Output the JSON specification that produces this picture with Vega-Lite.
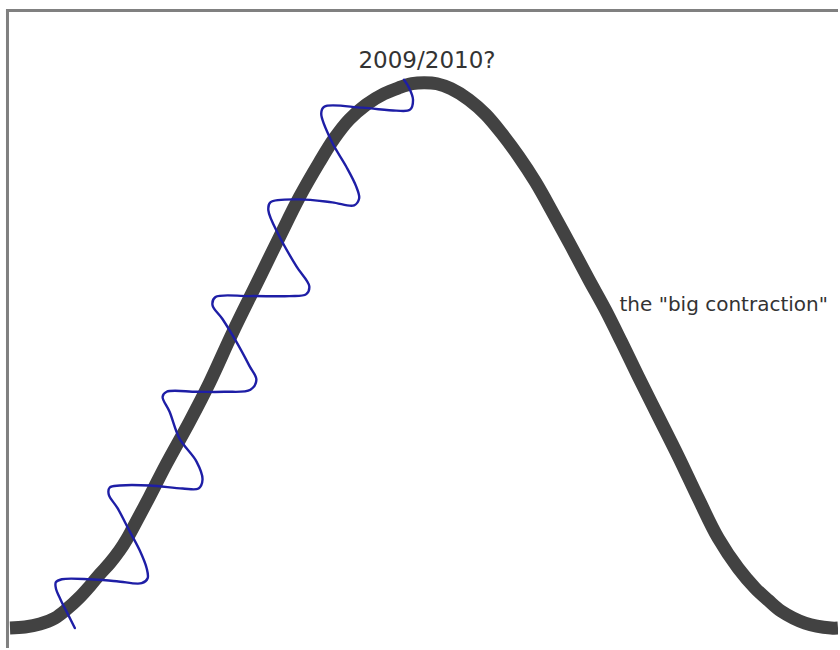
{
  "$schema": "https://vega.github.io/schema/vega-lite/v6.json",
  "width": 840,
  "height": 650,
  "autosize": {"type": "fit", "contains": "padding"},
  "padding": 0,
  "background": "white",
  "config": {"view": {"stroke": null}},
  "data": {"values": [{}]},
  "datasets": {
    "curve": [
      {"x": 10, "py": 630}, {"x": 25, "py": 629}, {"x": 40, "py": 626}, {"x": 55, "py": 620},
      {"x": 67, "py": 611}, {"x": 80, "py": 599}, {"x": 90, "py": 588}, {"x": 100, "py": 576},
      {"x": 110, "py": 565}, {"x": 120, "py": 552}, {"x": 127, "py": 541}, {"x": 133, "py": 530},
      {"x": 150, "py": 498}, {"x": 167, "py": 465}, {"x": 190, "py": 423}, {"x": 210, "py": 384},
      {"x": 233, "py": 334}, {"x": 257, "py": 285}, {"x": 280, "py": 238}, {"x": 300, "py": 198},
      {"x": 320, "py": 163}, {"x": 335, "py": 139}, {"x": 350, "py": 120}, {"x": 367, "py": 105},
      {"x": 385, "py": 94}, {"x": 400, "py": 88}, {"x": 413, "py": 84}, {"x": 425, "py": 83},
      {"x": 438, "py": 84}, {"x": 452, "py": 89}, {"x": 470, "py": 100}, {"x": 487, "py": 115},
      {"x": 503, "py": 134}, {"x": 520, "py": 157}, {"x": 537, "py": 183}, {"x": 555, "py": 215},
      {"x": 573, "py": 248}, {"x": 590, "py": 280}, {"x": 607, "py": 311}, {"x": 623, "py": 343},
      {"x": 640, "py": 378}, {"x": 660, "py": 418}, {"x": 680, "py": 458}, {"x": 700, "py": 500},
      {"x": 720, "py": 540}, {"x": 740, "py": 570}, {"x": 757, "py": 590}, {"x": 770, "py": 602},
      {"x": 783, "py": 613}, {"x": 807, "py": 625}, {"x": 833, "py": 630}, {"x": 840, "py": 630}
    ],
    "wave": [
      {"i": 1, "x": 75, "py": 630}, {"i": 2, "x": 68, "py": 616}, {"i": 3, "x": 61, "py": 602},
      {"i": 4, "x": 56, "py": 590}, {"i": 5, "x": 56, "py": 584}, {"i": 6, "x": 62, "py": 581},
      {"i": 7, "x": 90, "py": 581}, {"i": 8, "x": 117, "py": 583}, {"i": 9, "x": 142, "py": 585},
      {"i": 10, "x": 148, "py": 580}, {"i": 11, "x": 147, "py": 570}, {"i": 12, "x": 140, "py": 552},
      {"i": 13, "x": 130, "py": 533}, {"i": 14, "x": 118, "py": 510}, {"i": 15, "x": 109, "py": 496},
      {"i": 16, "x": 110, "py": 489}, {"i": 17, "x": 120, "py": 487}, {"i": 18, "x": 150, "py": 487},
      {"i": 19, "x": 183, "py": 490}, {"i": 20, "x": 199, "py": 490}, {"i": 21, "x": 203, "py": 481},
      {"i": 22, "x": 197, "py": 463}, {"i": 23, "x": 180, "py": 440}, {"i": 24, "x": 170, "py": 413},
      {"i": 25, "x": 163, "py": 398}, {"i": 26, "x": 167, "py": 393}, {"i": 27, "x": 197, "py": 393},
      {"i": 28, "x": 225, "py": 393}, {"i": 29, "x": 251, "py": 391}, {"i": 30, "x": 257, "py": 381},
      {"i": 31, "x": 250, "py": 367}, {"i": 32, "x": 237, "py": 343}, {"i": 33, "x": 223, "py": 320},
      {"i": 34, "x": 213, "py": 306}, {"i": 35, "x": 216, "py": 298}, {"i": 36, "x": 250, "py": 297},
      {"i": 37, "x": 290, "py": 297}, {"i": 38, "x": 307, "py": 295}, {"i": 39, "x": 310, "py": 287},
      {"i": 40, "x": 297, "py": 267}, {"i": 41, "x": 280, "py": 237}, {"i": 42, "x": 269, "py": 211},
      {"i": 43, "x": 271, "py": 203}, {"i": 44, "x": 300, "py": 200}, {"i": 45, "x": 333, "py": 203},
      {"i": 46, "x": 355, "py": 206}, {"i": 47, "x": 360, "py": 199}, {"i": 48, "x": 357, "py": 187},
      {"i": 49, "x": 347, "py": 167}, {"i": 50, "x": 333, "py": 143}, {"i": 51, "x": 322, "py": 114},
      {"i": 52, "x": 325, "py": 107}, {"i": 53, "x": 363, "py": 108}, {"i": 54, "x": 397, "py": 111},
      {"i": 55, "x": 411, "py": 110}, {"i": 56, "x": 414, "py": 100}, {"i": 57, "x": 410, "py": 88},
      {"i": 58, "x": 405, "py": 80}
    ]
  },
  "layer": [
    {
      "mark": {"type": "rule", "color": "#808080", "strokeWidth": 3},
      "encoding": {
        "x": {"datum": 7.5, "type": "quantitative", "scale": {"domain": [0, 840], "nice": false, "zero": false}, "axis": null},
        "y": {"datum": 0, "type": "quantitative", "scale": {"domain": [0, 650], "nice": false, "zero": false}, "axis": null},
        "y2": {"datum": 641}
      }
    },
    {
      "mark": {"type": "rule", "color": "#808080", "strokeWidth": 3},
      "encoding": {
        "x": {"datum": 6, "type": "quantitative"},
        "x2": {"datum": 840},
        "y": {"datum": 639.5, "type": "quantitative"}
      }
    },
    {
      "data": {"name": "curve"},
      "transform": [{"calculate": "650 - datum.py", "as": "level"}],
      "mark": {"type": "line", "color": "#424242", "strokeWidth": 13, "interpolate": "catmull-rom", "strokeCap": "butt", "clip": true},
      "encoding": {
        "x": {"field": "x", "type": "quantitative"},
        "y": {"field": "level", "type": "quantitative"}
      }
    },
    {
      "data": {"name": "wave"},
      "transform": [{"calculate": "650 - datum.py", "as": "level"}],
      "mark": {"type": "line", "color": "#1e1ea6", "strokeWidth": 2.4, "interpolate": "catmull-rom", "strokeCap": "round"},
      "encoding": {
        "x": {"field": "x", "type": "quantitative"},
        "y": {"field": "level", "type": "quantitative"},
        "order": {"field": "i", "type": "quantitative"}
      }
    },
    {
      "mark": {"type": "text", "text": "2009/2010?", "font": "DejaVu Sans", "fontSize": 23, "color": "#333333", "align": "center", "baseline": "alphabetic"},
      "encoding": {
        "x": {"datum": 428, "type": "quantitative"},
        "y": {"datum": 582, "type": "quantitative"}
      }
    },
    {
      "mark": {"type": "text", "text": "the \"big contraction\"", "font": "DejaVu Sans", "fontSize": 20, "color": "#333333", "align": "left", "baseline": "alphabetic"},
      "encoding": {
        "x": {"datum": 621, "type": "quantitative"},
        "y": {"datum": 338, "type": "quantitative"}
      }
    }
  ]
}
